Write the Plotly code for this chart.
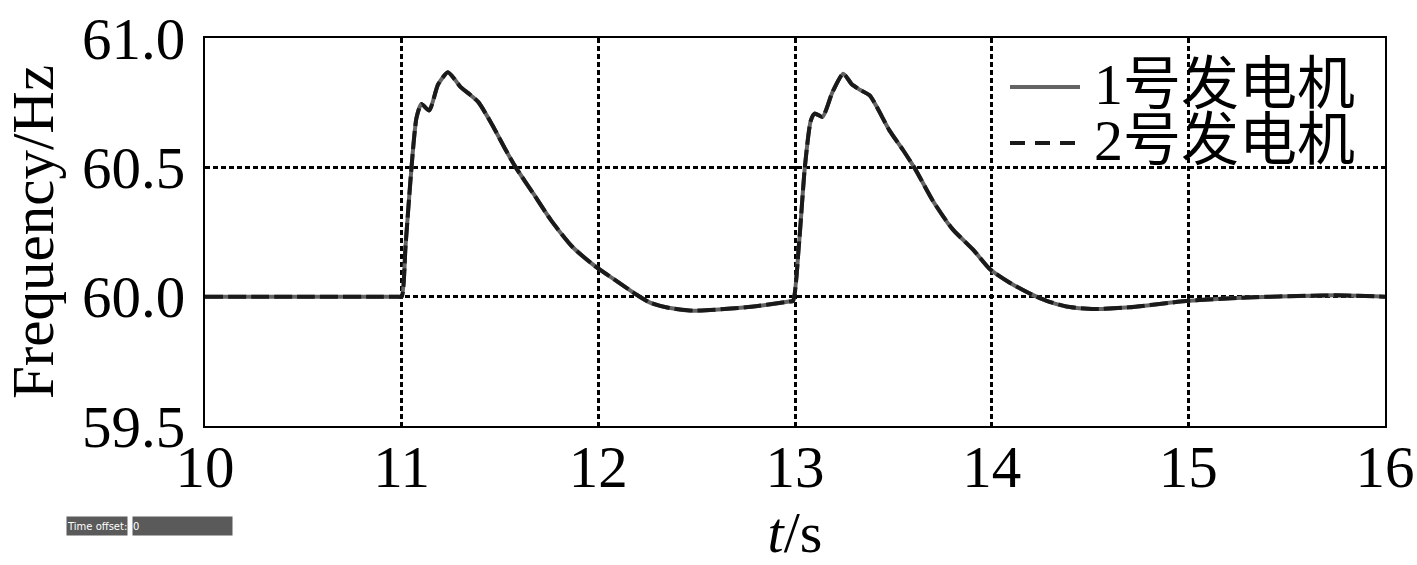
import plotly.graph_objects as go

# time axis (s) and generator frequencies (Hz)
t = [10.0, 10.5, 10.9, 10.98, 11.0, 11.02, 11.05, 11.075, 11.10, 11.14, 11.185, 11.235,
     11.27, 11.30, 11.34, 11.39, 11.46, 11.53, 11.58, 11.67, 11.76, 11.87, 11.99, 12.09,
     12.19, 12.26, 12.35, 12.48, 12.75, 12.97, 12.99, 13.02, 13.05, 13.08, 13.10, 13.14,
     13.19, 13.245, 13.29, 13.33, 13.38, 13.48, 13.55, 13.61, 13.70, 13.80, 13.91, 13.99,
     14.09, 14.20, 14.28, 14.38, 14.52, 14.70, 15.0, 15.30, 15.63, 15.75, 16.0]
f_gen1 = [60.0, 60.0, 60.0, 60.0, 60.0, 60.2, 60.50, 60.69, 60.745, 60.72, 60.82, 60.868,
          60.84, 60.81, 60.786, 60.752, 60.665, 60.566, 60.50, 60.398, 60.295, 60.191, 60.114, 60.062,
          60.010, 59.978, 59.958, 59.946, 59.959, 59.981, 59.984, 60.2, 60.50, 60.68, 60.708, 60.695,
          60.79, 60.862, 60.82, 60.80, 60.778, 60.643, 60.566, 60.495, 60.372, 60.262, 60.178, 60.107,
          60.055, 60.010, 59.984, 59.962, 59.952, 59.959, 59.984, 59.997, 60.004, 60.005, 60.0]
f_gen2 = [60.0, 60.0, 60.0, 60.0, 60.0, 60.2, 60.50, 60.69, 60.745, 60.72, 60.82, 60.868,
          60.84, 60.81, 60.786, 60.752, 60.665, 60.566, 60.50, 60.398, 60.295, 60.191, 60.114, 60.062,
          60.010, 59.978, 59.958, 59.946, 59.959, 59.981, 59.984, 60.2, 60.50, 60.68, 60.708, 60.695,
          60.79, 60.862, 60.82, 60.80, 60.778, 60.643, 60.566, 60.495, 60.372, 60.262, 60.178, 60.107,
          60.055, 60.010, 59.984, 59.962, 59.952, 59.959, 59.984, 59.997, 60.004, 60.005, 60.0]
names = ["1号发电机", "2号发电机"]
x_ticks = [10, 11, 12, 13, 14, 15, 16]
y_ticks = [59.5, 60.0, 60.5, 61.0]

FONT = "Liberation Serif, Times New Roman, Noto Sans CJK SC, serif"
W, H = 1417, 565
L, R, T, B = 205, 32, 38, 139
PW, PH = W - L - R, H - T - B


def px_x(x):
    # page pixel -> paper fraction
    return (x - L) / PW


def px_y(y):
    return (H - B - y) / PH


fig = go.Figure()
fig.add_trace(go.Scatter(
    x=t, y=f_gen1, mode="lines", name=names[0],
    line=dict(color="#646464", width=4, shape="spline", smoothing=0.6),
    showlegend=False,
))
fig.add_trace(go.Scatter(
    x=t, y=f_gen2, mode="lines", name=names[1],
    line=dict(color="#1a1a1a", width=4, dash="18px,5px", shape="spline", smoothing=0.6),
    showlegend=False,
))

# legend drawn by hand (long line samples, no box)
fig.add_shape(type="line", xref="paper", yref="paper",
              x0=px_x(1010), x1=px_x(1080), y0=px_y(87), y1=px_y(87),
              line=dict(color="#646464", width=4))
fig.add_shape(type="line", xref="paper", yref="paper",
              x0=px_x(1010), x1=px_x(1080), y0=px_y(143), y1=px_y(143),
              line=dict(color="#1a1a1a", width=4, dash="15px,10px"))
for name, yy in zip(names, [84, 140]):
    fig.add_annotation(text=name, xref="paper", yref="paper",
                       x=px_x(1092), y=px_y(yy), xanchor="left", yanchor="middle",
                       showarrow=False, font=dict(family=FONT, size=58, color="black"))

# small "Time offset" widget from the original screenshot
fig.add_annotation(text="Time offset:", xref="paper", yref="paper",
                   x=px_x(66), y=px_y(526), xanchor="left", yanchor="middle",
                   width=60, height=18, align="left", bgcolor="#5a5a5a", borderpad=0,
                   showarrow=False, font=dict(family="DejaVu Sans", size=10, color="white"))
fig.add_annotation(text="0", xref="paper", yref="paper",
                   x=px_x(132), y=px_y(526), xanchor="left", yanchor="middle",
                   width=99, height=18, align="left", bgcolor="#5a5a5a", borderpad=0,
                   showarrow=False, font=dict(family="DejaVu Sans", size=10, color="white"))

grid = dict(showgrid=True, gridcolor="black", gridwidth=3, griddash="5px,3px",
            showline=True, linecolor="black", linewidth=2, mirror=True, automargin=False,
            ticklabeloverflow="allow",
            zeroline=False, ticks="", tickfont=dict(family=FONT, size=59, color="black"))

fig.update_xaxes(range=[10, 16], tickvals=x_ticks, ticktext=[str(v) for v in x_ticks],
                 ticklabelstandoff=-12,
                 title=dict(text="<i>t</i>/s", font=dict(family=FONT, size=58, color="black"),
                            standoff=22),
                 **grid)
fig.update_yaxes(range=[59.5, 61.0], tickvals=y_ticks, ticktext=[f"{v:.1f}" for v in y_ticks],
                 ticklabelstandoff=6,
                 title=dict(text="Frequency/Hz", font=dict(family=FONT, size=59, color="black"),
                            standoff=24),
                 **grid)

fig.update_layout(
    width=W, height=H,
    margin=dict(l=L, r=R, t=T, b=B),
    paper_bgcolor="white", plot_bgcolor="white",
    font=dict(family=FONT, color="black"),
)

# drop the default 8px page margin so the figure fills the window exactly
fig.write_html("out.html", config={"displayModeBar": False},
               post_script="document.body.style.margin='0';")
